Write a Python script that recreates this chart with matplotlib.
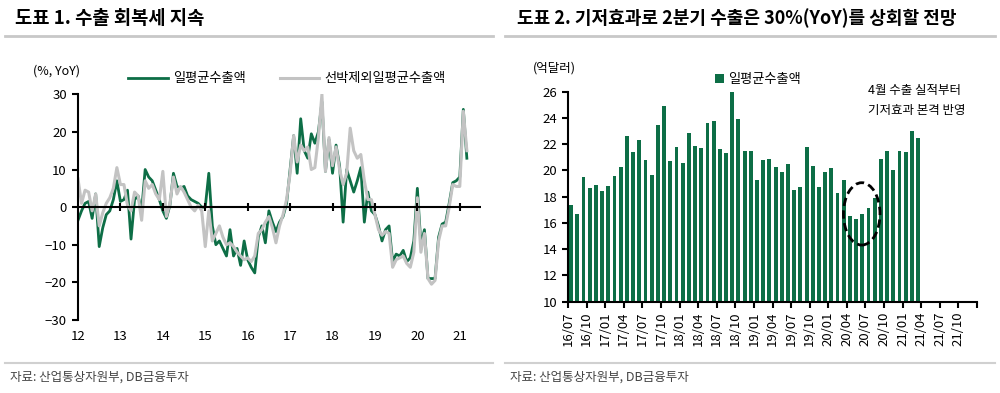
import numpy as np
import matplotlib
matplotlib.use("Agg")
import matplotlib.pyplot as plt
from matplotlib.lines import Line2D
from matplotlib.patches import Ellipse

plt.rcParams['font.family'] = ['Noto Sans CJK KR', 'DejaVu Sans']

GREEN = '#0d6e46'
GREY = '#c3c3c3'

# left chart: daily average export growth, %, YoY (monthly from 2012/01)
export_yoy = [
    -3.5, -1, 1, 1.5, -3, 3.5, -10.5, -5.5, -2, -1, 2, 7,            # 2012
    1.5, 2, 4.5, -8.5, 2, 3, -1, 10, 8, 7, 4.5, 2,                   # 2013
    -1, -3, 0.5, 9, 5.5, 5, 5.5, 3, 2, 1.5, 1, 0,                    # 2014
    0, 9, -5, -10, -9, -11, -13, -6, -13, -11, -15.5, -9,            # 2015
    -14, -16, -17.5, -8, -5, -9.5, -1, -4, -6.5, -4, -2.5, 1,        # 2016
    10, 19, 9, 23.5, 15, 13, 19.5, 17, 20, 28, 9.5, 18,              # 2017
    9, 16.5, 11, -4, 10, 7, 4, 7, 10.5, -4, 4, -1,                   # 2018
    -2, -5, -9, -6, -5, -14.5, -12.5, -13, -11.5, -14.5, -13.5, -9,  # 2019
    5, -10, -6, -19, -19, -19, -8, -4.5, -4, 1, 6.5, 7,              # 2020
    8, 26, 13]                                                       # 2021
export_ex_ship_yoy = [
    7.5, 1, 4.5, 4, -1, 3.5, -5, -1.5, 1, 2.5, 5, 10.5,
    6, 6, 0.5, -1, 4, 3, -3.5, 7, 5, 6, 3.5, 2,
    9.5, -2.5, 1, 8, 3.5, 5.5, 4, 2, 0, -1, 0.5, -1,
    -10.5, -1, -9, -7, -5, -8, -10, -9.5, -10.5, -12, -13, -14,
    -13.5, -14.5, -13, -7, -6, -4, -2.5, -5.5, -9.5, -5, -2, 2,
    9, 19, 12, 16.5, 15, 16, 10, 10.5, 18.5, 30, 9.5, 18.5,
    11, 16, 10, 6, 9, 21, 15, 13, 14, 7, 2, 2,
    -2, -6, -7.5, -6.5, -7, -16, -14, -13.5, -13, -15, -16, -12,
    2.5, -12, -7, -19, -20.5, -19.5, -9, -5, -5, 0, 6, 5.5,
    5.5, 25.5, 15]
year_labels = ['12', '13', '14', '15', '16', '17', '18', '19', '20', '21']

# right chart: daily average exports, 100 mn USD (2016/07 - 2021/03)
daily_exports = [
    17.4, 16.7, 19.5, 18.7, 18.9, 18.4,
    18.8, 19.6, 20.3, 22.6, 21.4, 22.3, 20.8, 19.65, 23.5, 24.9, 20.7, 21.8,
    20.55, 22.85, 21.85, 21.7, 23.6, 23.8, 21.6, 21.35, 26.0, 23.9, 21.5, 21.5,
    19.3, 20.8, 20.9, 20.3, 19.9, 20.5, 18.5, 18.75, 21.8, 20.35, 18.75, 19.9,
    20.15, 18.3, 19.25, 16.5, 16.3, 16.7, 17.15, 17.9, 20.85, 21.45, 20.0, 21.5,
    21.4, 23.0, 22.5]
quarter_labels = ['16/07', '16/10', '17/01', '17/04', '17/07', '17/10',
                  '18/01', '18/04', '18/07', '18/10', '19/01', '19/04',
                  '19/07', '19/10', '20/01', '20/04', '20/07', '20/10',
                  '21/01', '21/04', '21/07', '21/10']

fig = plt.figure(figsize=(10, 3.93), dpi=100)

# titles, rules, footers
fig.text(0.015, 0.953, '도표 1. 수출 회복세 지속', fontsize=13.5, fontweight='bold', va='center')
fig.text(0.517, 0.953, '도표 2. 기저효과로 2분기 수출은 30%(YoY)를 상회할 전망', fontsize=13,
         fontweight='bold', va='center')
for x0, x1 in [(0.005, 0.493), (0.505, 0.995)]:
    fig.add_artist(Line2D([x0, x1], [0.908, 0.908], color='#c8c8c8', lw=2))
    fig.add_artist(Line2D([x0, x1], [0.077, 0.077], color='#d0d0d0', lw=1.5))
fig.text(0.01, 0.04, '자료: 산업통상자원부, DB금융투자', fontsize=9, color='#444444', va='center')
fig.text(0.51, 0.04, '자료: 산업통상자원부, DB금융투자', fontsize=9, color='#444444', va='center')

# ---- left chart ----
ax1 = fig.add_axes([0.078, 0.186, 0.403, 0.574])
m = np.arange(len(export_yoy))
ax1.plot(m, export_yoy, color=GREEN, lw=2, label='일평균수출액')
ax1.plot(m, export_ex_ship_yoy, color=GREY, lw=2.2, label='선박제외일평균수출액')
ax1.axhline(0, color='black', lw=1.5, zorder=3)
yt = np.arange(0, 12 * len(year_labels), 12)
ax1.plot(yt[1:], np.zeros(len(yt) - 1), ls='none', marker='|', color='black', ms=6, mew=1.5, zorder=4)
ax1.set_xlim(0, 114)
ax1.set_ylim(-30, 30)
ax1.set_yticks(np.arange(-30, 31, 10))
ax1.set_xticks(yt)
ax1.set_xticklabels(year_labels)
for s in ['top', 'right', 'bottom']:
    ax1.spines[s].set_visible(False)
ax1.spines['left'].set_linewidth(1.5)
ax1.tick_params(axis='y', direction='out', length=4, width=1.5, labelsize=9.5, pad=4)
ax1.tick_params(axis='x', length=0, labelsize=9.5, pad=7)
fig.text(0.033, 0.82, '(%, YoY)', fontsize=9, va='center')
ax1.legend(loc='center', bbox_to_anchor=(0.287, 0.799), bbox_transform=fig.transFigure,
           ncol=2, frameon=False, fontsize=9.5, handlelength=3.0, columnspacing=2.6,
           handletextpad=0.4)

# ---- right chart ----
ax2 = fig.add_axes([0.568, 0.2323, 0.409, 0.5344])
idx = np.arange(len(daily_exports))
ax2.bar(idx, daily_exports, width=0.62, color=GREEN, label='일평균수출액')
ax2.set_xlim(-0.5, 65.5)
ax2.set_ylim(10, 26)
ax2.set_yticks(np.arange(10, 27, 2))
qt = np.arange(-0.5, 66, 3)
ax2.set_xticks(qt)
ax2.set_xticklabels(quarter_labels + [''], rotation=90)
for s in ['top', 'right']:
    ax2.spines[s].set_visible(False)
ax2.spines['left'].set_linewidth(1.5)
ax2.spines['bottom'].set_linewidth(1.5)
ax2.tick_params(axis='both', direction='out', length=4, width=1.5, labelsize=9.5)
ax2.tick_params(axis='x', pad=3)
fig.text(0.533, 0.827, '(억달러)', fontsize=9, va='center')
ax2.legend(loc='center left', bbox_to_anchor=(0.703, 0.797), bbox_transform=fig.transFigure,
           frameon=False, fontsize=9.5, handlelength=0.7, handleheight=0.7, handletextpad=0.3)
ax2.add_patch(Ellipse((46.9, 16.69), 5.9, 4.75, fill=False, ls=(0, (3, 1.6)), lw=2,
                      color='black', zorder=5, clip_on=False))
fig.text(0.868, 0.745, '4월 수출 실적부터\n기저효과 본격 반영', fontsize=9, va='center',
         linespacing=1.7)

fig.savefig('out.png', dpi=100)
